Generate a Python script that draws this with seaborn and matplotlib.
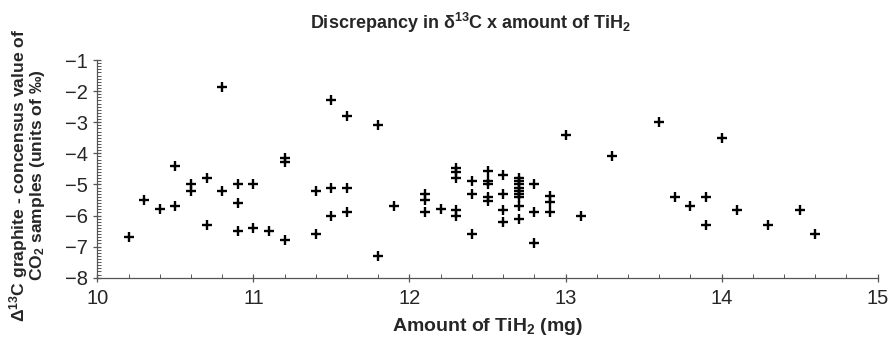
import pandas as pd
import seaborn as sns
import matplotlib.pyplot as plt
from matplotlib.ticker import MultipleLocator

# TiH2 amount (mg) and the discrepancy for each sample
tih2_mg = [
    10.2, 10.3, 10.4, 10.5, 10.5, 10.6, 10.6, 10.7, 10.7, 10.8, 10.8,
    10.9, 10.9, 10.9, 11.0, 11.0, 11.1, 11.2, 11.2, 11.2,
    11.4, 11.4, 11.5, 11.5, 11.5, 11.6, 11.6, 11.6,
    11.8, 11.8, 11.9, 12.1, 12.1, 12.1, 12.2,
    12.3, 12.3, 12.3, 12.3, 12.3, 12.4, 12.4, 12.4,
    12.5, 12.5, 12.5, 12.5, 12.5, 12.6, 12.6, 12.6, 12.6,
    12.7, 12.7, 12.7, 12.7, 12.7, 12.7, 12.7, 12.7, 12.7,
    12.8, 12.8, 12.8, 12.9, 12.9, 12.9, 13.0, 13.1,
    13.3, 13.6, 13.7, 13.8, 13.9, 13.9, 14.0, 14.1, 14.3, 14.5, 14.6,
]
delta_13c = [
    -6.7, -5.5, -5.8, -4.4, -5.7, -5.0, -5.2, -4.8, -6.3, -1.86, -5.2,
    -5.0, -5.6, -6.5, -5.0, -6.4, -6.5, -4.15, -4.28, -6.8,
    -5.2, -6.6, -2.28, -5.1, -6.0, -2.8, -5.1, -5.9,
    -3.1, -7.3, -5.7, -5.3, -5.5, -5.9, -5.8,
    -4.48, -4.6, -4.8, -5.82, -6.0, -4.9, -5.3, -6.6,
    -4.58, -4.89, -5.0, -5.4, -5.52, -4.7, -5.3, -5.82, -6.2,
    -4.8, -4.9, -5.0, -5.1, -5.2, -5.3, -5.42, -5.7, -6.11,
    -5.0, -5.9, -6.89, -5.38, -5.58, -5.9, -3.4, -6.0,
    -4.1, -2.98, -5.4, -5.7, -5.4, -6.3, -3.5, -5.82, -6.3, -5.82, -6.6,
]

df = pd.DataFrame({'tih2': tih2_mg, 'delta': delta_13c})

sns.set_style('ticks')
plt.rcParams['font.family'] = ['Liberation Sans', 'DejaVu Sans']
plt.rcParams['mathtext.default'] = 'regular'

fig = plt.figure(figsize=(8.88, 3.49), dpi=100)
ax = fig.add_axes([0.1096, 0.2043, 0.8788, 0.6237])

sns.scatterplot(data=df, x='tih2', y='delta', marker='+', color='black',
                s=60, linewidth=1.7, ax=ax, legend=False)

ax.set_xlim(10, 15)
ax.set_ylim(-8, -1)
ax.xaxis.set_major_locator(MultipleLocator(1))
ax.xaxis.set_minor_locator(MultipleLocator(0.2))
ax.yaxis.set_major_locator(MultipleLocator(1))
ax.yaxis.set_minor_locator(MultipleLocator(0.1))

for side in ['top', 'right']:
    ax.spines[side].set_visible(False)
for side in ['left', 'bottom']:
    ax.spines[side].set_color('#555555')
    ax.spines[side].set_linewidth(0.9)

ax.tick_params(which='major', direction='inout', length=6, width=0.9,
               color='#555555', labelsize=14.5, pad=5)
ax.tick_params(which='minor', direction='in', length=3, width=0.7,
               color='#555555')
ax.tick_params(axis='y', which='major', pad=4)

ax.set_xlabel('Amount of TiH$_2$ (mg)', fontsize=14, fontweight='bold',
              labelpad=6)
ax.set_ylabel('Δ$^{13}$C graphite - concensus value of\nCO$_2$ samples (units of ‰)',
              fontsize=12.6, fontweight='bold', linespacing=0.92)
ax.yaxis.set_label_coords(-0.064, 0.47)

fig.text(0.53, 0.935, 'Discrepancy in δ$^{13}$C x amount of TiH$_2$',
         ha='center', va='center', fontsize=13, fontweight='bold')

fig.savefig('out.png', dpi=100)
